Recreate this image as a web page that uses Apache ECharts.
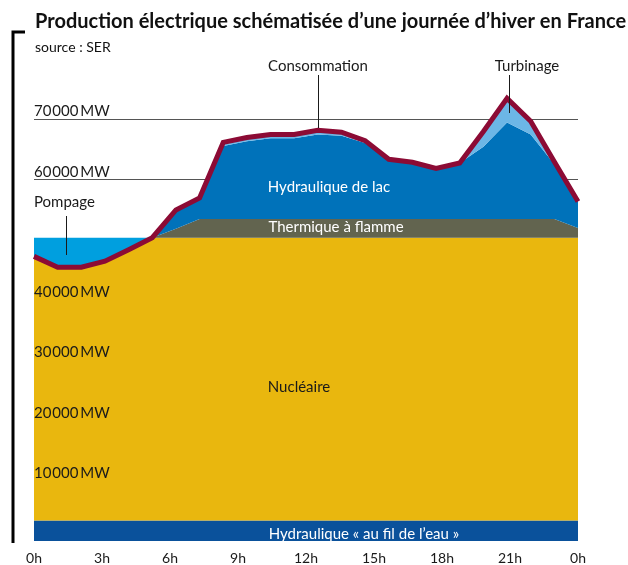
<!DOCTYPE html>
<html>
<head>
<meta charset="utf-8">
<script src="https://cdn.jsdelivr.net/npm/echarts@6/dist/echarts.min.js"></script>
<style>
  html, body { margin: 0; padding: 0; background: #fff; }
  #chart { width: 628px; height: 565px; }
</style>
</head>
<body>
<div id="chart"></div>
<script>
const FONT = 'Lato';

// heures de la journée (un point par heure)
const heures = ['0h', '1h', '2h', '3h', '4h', '5h', '6h', '7h', '8h', '9h', '10h', '11h',
  '12h', '13h', '14h', '15h', '16h', '17h', '18h', '19h', '20h', '21h', '22h', '23h'];
const tickLabels = ['0h', '3h', '6h', '9h', '12h', '15h', '18h', '21h', '0h'];
// graduations affichées (50 000 MW est masqué dans l'original)
const yLabels = [10000, 20000, 30000, 40000, 60000, 70000];

// production par filière, en MW (empilée)
const filDeLEau = [3400, 3400, 3400, 3400, 3400, 3400, 3400, 3400, 3400, 3400, 3400, 3400,
  3400, 3400, 3400, 3400, 3400, 3400, 3400, 3400, 3400, 3400, 3400, 3400];
const nucleaire = [43800, 42000, 42000, 43000, 44900, 46900, 46900, 46900, 46900, 46900, 46900, 46900,
  46900, 46900, 46900, 46900, 46900, 46900, 46900, 46900, 46900, 46900, 46900, 46900];
const pompage = [3100, 4900, 4900, 3900, 2000, 0, 0, 0, 0, 0, 0, 0,
  0, 0, 0, 0, 0, 0, 0, 0, 0, 0, 0, 0];
const thermique = [0, 0, 0, 0, 0, 0, 1500, 3100, 3100, 3100, 3100, 3100,
  3100, 3100, 3100, 3100, 3100, 3100, 3100, 3100, 3100, 3100, 3100, 1600];
const lac = [0, 0, 0, 0, 0, 0, 3100, 3500, 12100, 12900, 13400, 13400,
  14000, 13800, 12600, 9900, 9400, 8400, 9300, 12000, 16000, 14000, 9100, 4400];
const turbinage = [0, 0, 0, 0, 0, 0, 0, 0, 600, 600, 600, 600,
  700, 600, 400, 0, 0, 0, 0, 2500, 4000, 2200, 400, 0];
const consommation = [47200, 45400, 45400, 46400, 48300, 50300, 54900, 56900, 66100, 66900, 67400, 67400,
  68100, 67800, 66400, 63300, 62800, 61800, 62700, 67900, 73400, 69600, 62900, 56300];

const chart = echarts.init(document.getElementById('chart'));

function area(name, data, color) {
  return {
    name, type: 'line', stack: 'prod', data,
    symbol: 'none', silent: true,
    lineStyle: { width: 0 },
    areaStyle: { color, opacity: 1 }
  };
}

function txt(text, x, y, color, align) {
  return {
    type: 'text', x, y, z: 100,
    style: {
      text, fill: color, font: `15px ${FONT}`,
      textAlign: align || 'center', textVerticalAlign: 'middle'
    }
  };
}

function lead(x, y1, y2) {
  return { type: 'line', z: 90, shape: { x1: x, y1, x2: x, y2 }, style: { stroke: '#1a1a1a', lineWidth: 1 } };
}

chart.setOption({
  animation: false,
  title: {
    text: 'Production électrique schématisée d’une journée d’hiver en France',
    subtext: 'source : SER',
    left: 30, top: 7, itemGap: 8,
    textStyle: { fontFamily: FONT, fontWeight: 'bold', fontSize: 20, color: '#111' },
    subtextStyle: { fontFamily: FONT, fontSize: 14, color: '#111' }
  },
  grid: { left: 34, right: 50, top: 58.6, bottom: 23 },
  xAxis: [
    { type: 'category', data: heures, boundaryGap: false, show: false },
    {
      type: 'value', min: 0, max: 24, interval: 3, position: 'bottom',
      axisLine: { show: false }, axisTick: { show: false }, splitLine: { show: false },
      axisLabel: {
        formatter: v => tickLabels[v / 3], margin: 10,
        color: '#1a1a1a', fontFamily: FONT, fontSize: 14
      }
    }
  ],
  yAxis: [
    {
      type: 'value', min: 0, max: 80000, interval: 10000, z: 10,
      axisLine: { show: false }, axisTick: { show: false }, splitLine: { show: false },
      axisLabel: {
        inside: true, align: 'left', verticalAlign: 'bottom', margin: 0,
        showMinLabel: false, showMaxLabel: false,
        color: '#1a1a1a', fontFamily: FONT, fontSize: 15,
        formatter: v => yLabels.includes(v) ? v / 1000 + '\u200A000\u2009MW' : ''
      }
    },
    {
      type: 'value', min: 0, max: 80000, interval: 10000,
      axisLine: { show: false }, axisTick: { show: false }, axisLabel: { show: false },
      splitLine: { show: true, showMinLine: false, showMaxLine: false, lineStyle: { color: '#555', width: 1 } }
    }
  ],
  series: [
    area('Hydraulique « au fil de l’eau »', filDeLEau, '#0a519b'),
    area('Nucléaire', nucleaire, '#e9b70e'),
    area('Pompage', pompage, '#009fdf'),
    area('Thermique à flamme', thermique, '#62644f'),
    area('Hydraulique de lac', lac, '#0072ba'),
    area('Turbinage', turbinage, '#6cb6e6'),
    {
      name: 'Consommation', type: 'line', data: consommation, z: 5,
      symbol: 'none', silent: true,
      lineStyle: { color: '#8c0b35', width: 5, join: 'miter' }
    }
  ],
  graphic: [
    { type: 'polyline', z: 100, shape: { points: [[25, 32], [13, 32], [13, 543]] }, style: { stroke: '#000', lineWidth: 3, fill: 'none' } },
    lead(318.5, 75, 128),
    lead(509.5, 75, 113),
    lead(66.5, 216, 255),
    txt('Consommation', 318, 66, '#1a1a1a'),
    txt('Turbinage', 527, 66, '#1a1a1a'),
    txt('Pompage', 34, 202, '#1a1a1a', 'left'),
    txt('Hydraulique de lac', 329, 187, '#fff'),
    txt('Thermique à flamme', 336, 227, '#fff'),
    txt('Nucléaire', 299, 387, '#1a1a1a'),
    txt('Hydraulique « au fil de l’eau »', 364, 534, '#fff')
  ]
});
</script>
</body>
</html>
